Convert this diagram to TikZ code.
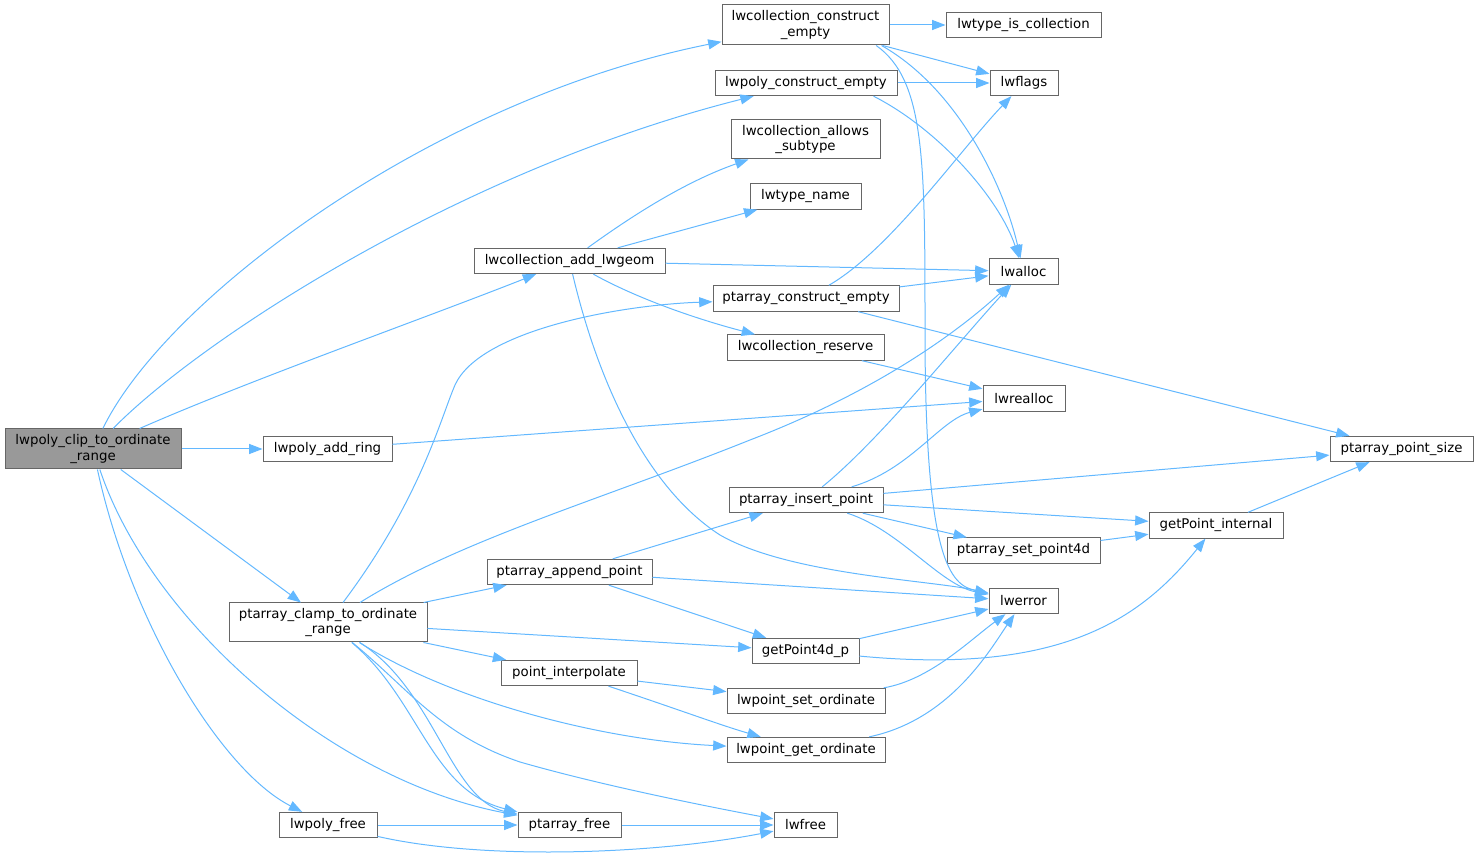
\documentclass[tikz,border=0pt]{standalone}
\usepackage{fontspec}
\setmainfont{DejaVu Sans}
\usetikzlibrary{arrows.meta}
\definecolor{edgec}{HTML}{63B8FF}
\definecolor{boxc}{HTML}{666666}
\definecolor{mainc}{HTML}{999999}
\begin{document}
\begin{tikzpicture}[x=0.75pt,y=-0.75pt,
 fn/.style={draw=boxc, line width=0.75pt, fill=white, inner sep=0pt, font=\fontsize{10}{11.5}\selectfont, align=center, minimum height=19pt},
 fn2/.style={fn, minimum height=30pt},
 call/.style={draw=edgec, line width=0.75pt, -{Triangle[length=10pt,width=7.5pt]}},
]
\useasboundingbox (0,0) rectangle (1479,862);
% nodes
\node[fn2, fill=mainc, minimum width=132pt] (clip) at (93,449) {lwpoly\_clip\_to\_ordinate\\\_range};
\node[fn2, minimum width=125.25pt] (cce) at (805.5,25) {lwcollection\_construct\\\_empty};
\node[fn, minimum width=116.25pt] (tic) at (1023.5,25) {lwtype\_is\_collection};
\node[fn, minimum width=136.5pt] (pce) at (806,83) {lwpoly\_construct\_empty};
\node[fn, minimum width=51pt] (lwflags) at (1024,83) {lwflags};
\node[fn2, minimum width=111.75pt, minimum height=29.25pt] (cas) at (805.5,139.5) {lwcollection\_allows\\\_subtype};
\node[fn, minimum width=83.25pt] (ltn) at (805.5,196.5) {lwtype\_name};
\node[fn, minimum width=143.25pt] (cal) at (569.5,261) {lwcollection\_add\_lwgeom};
\node[fn, minimum width=51.75pt] (lwalloc) at (1023.5,271.5) {lwalloc};
\node[fn, minimum width=139.5pt] (pae) at (806,298.5) {ptarray\_construct\_empty};
\node[fn, minimum width=117.75pt] (cr) at (805.5,347.5) {lwcollection\_reserve};
\node[fn, minimum width=61.5pt] (lwrealloc) at (1024,398.5) {lwrealloc};
\node[fn, minimum width=96.75pt] (lpar) at (327.5,449) {lwpoly\_add\_ring};
\node[fn, minimum width=107.25pt] (pps) at (1401.5,449) {ptarray\_point\_size};
\node[fn, minimum width=115.5pt] (pip) at (806,500) {ptarray\_insert\_point};
\node[fn, minimum width=100.5pt] (gpi) at (1216,525.5) {getPoint\_internal};
\node[fn, minimum width=114.75pt] (sp4) at (1023.5,550.5) {ptarray\_set\_point4d};
\node[fn, minimum width=123.75pt] (pap) at (569.5,572) {ptarray\_append\_point};
\node[fn, minimum width=51.75pt] (lwerror) at (1023.5,601) {lwerror};
\node[fn2, minimum width=148.5pt, minimum height=29.25pt] (clamp) at (328,622.5) {ptarray\_clamp\_to\_ordinate\\\_range};
\node[fn, minimum width=80.25pt] (g4p) at (805.5,651) {getPoint4d\_p};
\node[fn, minimum width=102pt] (pi) at (569,673) {point\_interpolate};
\node[fn, minimum width=118.5pt] (pso) at (806,701) {lwpoint\_set\_ordinate};
\node[fn, minimum width=118.5pt] (pgo) at (806,750) {lwpoint\_get\_ordinate};
\node[fn, minimum width=73.5pt] (pf) at (328,825) {lwpoly\_free};
\node[fn, minimum width=77.25pt] (paf) at (569.5,825) {ptarray\_free};
\node[fn, minimum width=47.25pt] (lwfree) at (805.5,825) {lwfree};
% edges from clip
\draw[call] (clip) .. controls (165,300) and (430,100) .. (cce);
\draw[call] (clip) .. controls (200,340) and (460,170) .. (pce);
\draw[call] (clip) .. controls (250,380) and (420,320) .. (cal);
\draw[call] (clip) -- (lpar);
\draw[call] (clip) -- (clamp);
\draw[call] (clip) .. controls (150,620) and (330,780) .. (paf);
\draw[call] (clip) .. controls (130,620) and (220,770) .. (pf);
% cce
\draw[call] (cce) -- (tic);
\draw[call] (cce) -- (lwflags);
\draw[call] ([xshift=-6pt]cce.south east) .. controls (960,90) and (1005,190) .. (lwalloc);
\draw[call] ([xshift=-10pt]cce.south east) .. controls (925,80) and (925,160) .. (925,330) .. controls (925,560) and (950,585) .. (lwerror);
% pce
\draw[call] (pce) -- (lwflags);
\draw[call] ([xshift=-18pt]pce.south east) .. controls (940,130) and (1000,200) .. (lwalloc);
% cal
\draw[call] (cal) .. controls (640,210) and (690,180) .. (cas);
\draw[call] (cal) -- (ltn);
\draw[call] (cal) -- (lwalloc);
\draw[call] (cal) .. controls (640,300) and (700,320) .. (cr);
\draw[call] (cal) .. controls (600,390) and (650,490) .. (720,535) .. controls (790,575) and (930,580) .. (lwerror);
% pae
\draw[call] (pae) .. controls (890,250) and (960,150) .. (lwflags);
\draw[call] (pae) -- (lwalloc);
\draw[call] (pae) -- (pps);
% cr, lpar
\draw[call] (cr) -- (lwrealloc);
\draw[call] (lpar) -- (lwrealloc);
% pip
\draw[call] (pip) .. controls (880,440) and (960,340) .. (lwalloc);
\draw[call] (pip) .. controls (910,470) and (940,420) .. (lwrealloc);
\draw[call] (pip) -- (pps);
\draw[call] (pip) -- (gpi);
\draw[call] (pip) -- (sp4);
\draw[call] (pip) .. controls (900,530) and (940,585) .. (lwerror);
% gpi, sp4
\draw[call] (gpi) -- (pps);
\draw[call] (sp4) -- (gpi);
% pap
\draw[call] (pap) -- (pip);
\draw[call] (pap) -- (lwerror);
\draw[call] (pap) -- (g4p);
% clamp
\draw[call] (clamp) .. controls (420,500) and (440,420) .. (455,385) .. controls (480,330) and (620,305) .. (pae);
\draw[call] (clamp) .. controls (460,540) and (600,500) .. (750,440) .. controls (880,390) and (960,330) .. (lwalloc);
\draw[call] (clamp) -- (pap);
\draw[call] (clamp) -- (g4p);
\draw[call] (clamp) -- (pi);
\draw[call] (clamp) .. controls (450,700) and (600,740) .. (pgo);
\draw[call] (clamp) .. controls (410,690) and (440,735) .. (520,762) .. controls (600,785) and (700,805) .. (lwfree);
\draw[call] (clamp) .. controls (420,700) and (430,790) .. (paf);
\draw[call] (clamp) .. controls (435,690) and (450,800) .. (paf);
% g4p
\draw[call] (g4p) -- (lwerror);
\draw[call] (g4p) .. controls (1060,675) and (1140,620) .. (gpi);
% pi
\draw[call] (pi) -- (pso);
\draw[call] (pi) .. controls (680,710) and (720,725) .. (pgo);
% pso, pgo
\draw[call] (pso) .. controls (930,680) and (970,640) .. (lwerror);
\draw[call] (pgo) .. controls (950,720) and (990,650) .. (lwerror);
% frees
\draw[call] (pf) -- (paf);
\draw[call] (pf) .. controls (480,860) and (650,855) .. (lwfree);
\draw[call] (paf) -- (lwfree);
\end{tikzpicture}
\end{document}
